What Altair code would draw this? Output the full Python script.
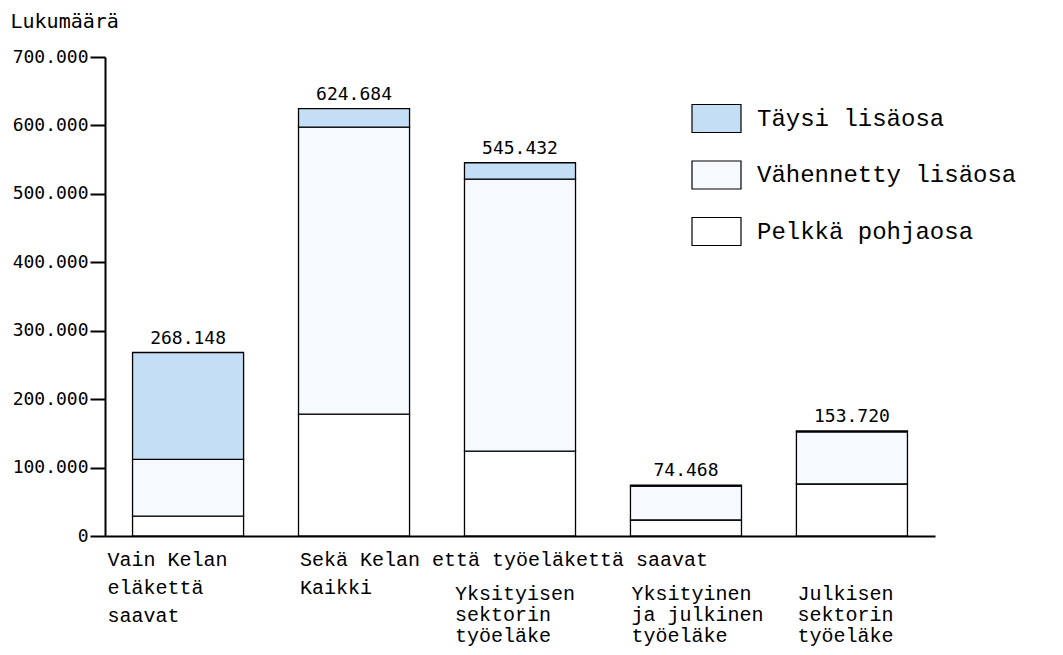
import altair as alt
import pandas as pd

# ---------------- data ----------------
categories = [
    "Vain Kelan eläkettä saavat",
    "Kaikki",
    "Yksityisen sektorin työeläke",
    "Yksityinen ja julkinen työeläke",
    "Julkisen sektorin työeläke",
]
series = ["Täysi lisäosa", "Vähennetty lisäosa", "Pelkkä pohjaosa"]
pelkka = [29000, 178000, 124000, 23400, 76000]
vahennetty = [83000, 419500, 397500, 49500, 76200]
taysi = [156148, 27184, 23932, 1568, 1520]
totals = [268148, 624684, 545432, 74468, 153720]
colors = ["#C4DFF5", "#F6FAFE", "#FFFFFF"]
y_ticks = [0, 100000, 200000, 300000, 400000, 500000, 600000, 700000]

lab_vain = ["Vain Kelan", "eläkettä", "saavat"]
lab_seka = ["Sekä Kelan että työeläkettä saavat", "Kaikki"]
lab_yks = ["Yksityisen", "sektorin", "työeläke"]
lab_yj = ["Yksityinen", "ja julkinen", "työeläke"]
lab_julk = ["Julkisen", "sektorin", "työeläke"]

# ---------------- tables ----------------
rows = []
for i, c in enumerate(categories):
    rows.append({"cat": c, "series": series[2], "value": pelkka[i], "ord": 0})
    rows.append({"cat": c, "series": series[1], "value": vahennetty[i], "ord": 1})
    rows.append({"cat": c, "series": series[0], "value": taysi[i], "ord": 2})
df = pd.DataFrame(rows)
tot = pd.DataFrame({"cat": categories, "total": totals})

FONT_NUM = "DejaVu Sans Mono"
FONT_TXT = "Liberation Mono"

x_scale = alt.Scale(domain=categories, paddingInner=0.331, paddingOuter=0.166)
y_scale = alt.Scale(domain=[0, 700000], nice=False)
y_axis = alt.Axis(
    values=y_ticks,
    labelExpr="replace(format(datum.value, ','), ',', '.')",
    tickSize=15, tickWidth=2, tickColor="black",
    domainColor="black", domainWidth=2,
    labelFont=FONT_NUM, labelFontSize=18, labelColor="black", labelPadding=2,
    grid=False,
    title="Lukumäärä", titleAngle=0, titleX=-95, titleY=-30,
    titleAlign="left", titleBaseline="alphabetic",
    titleFont=FONT_NUM, titleFontSize=20, titleFontWeight="normal", titleColor="black",
)
x_axis = alt.Axis(labels=False, ticks=False, title=None, domainColor="black", domainWidth=2)

bars = alt.Chart(df).mark_bar(stroke="black", strokeWidth=1.3, opacity=1).encode(
    x=alt.X("cat:N", scale=x_scale, axis=x_axis),
    y=alt.Y("value:Q", stack="zero", scale=y_scale, axis=y_axis),
    color=alt.Color(
        "series:N",
        scale=alt.Scale(domain=series, range=colors),
        legend=alt.Legend(
            title=None, orient="none", legendX=586, legendY=36,
            symbolType="M-1,-0.5714L1,-0.5714L1,0.5714L-1,0.5714Z",
            symbolSize=2401, symbolStrokeColor="black", symbolStrokeWidth=1.2,
            symbolOpacity=1, symbolFillColor="white",
            labelFont=FONT_TXT, labelFontSize=24, labelColor="black",
            labelOffset=15, labelLimit=500, rowPadding=14.5, padding=0,
        ),
    ),
    order=alt.Order("ord:Q", sort="ascending"),
)

total_text = alt.Chart(tot).transform_calculate(
    lbl="replace(format(datum.total, ','), ',', '.')"
).mark_text(font=FONT_NUM, fontSize=18, color="black", baseline="alphabetic", dy=-9).encode(
    x=alt.X("cat:N", scale=x_scale, axis=x_axis),
    y=alt.Y("total:Q", scale=y_scale, axis=y_axis),
    text="lbl:N",
)


def sub_label(cat_idx, lines, dx, dy, lh):
    d = pd.DataFrame({"cat": [categories[i] for i in cat_idx], "txt": ["\n".join(l) for l in lines]})
    return alt.Chart(d).mark_text(
        font=FONT_TXT, fontSize=20, color="black", align="left", baseline="alphabetic",
        lineBreak="\n", lineHeight=lh, dx=dx, dy=dy,
    ).encode(
        x=alt.X("cat:N", scale=x_scale, axis=x_axis, bandPosition=0),
        y=alt.YDatum(0, type="quantitative", scale=y_scale, axis=y_axis),
        text="txt:N",
    )


lab1 = sub_label([0], [lab_vain], -25, 30, 28)
lab2 = sub_label([1], [lab_seka], 1.5, 30, 28)
lab3 = sub_label([2], [lab_yks], -9.5, 64, 21)
lab4 = sub_label([3, 4], [lab_yj, lab_julk], 1, 64, 21)

chart = alt.layer(bars, total_text, lab1, lab2, lab3, lab4).properties(
    width=830, height=479,
    autosize=alt.AutoSizeParams(type="none"),
    padding={"left": 97, "top": 49, "right": 120, "bottom": 111},
    background="white",
).configure_view(stroke=None)

chart.save("out.html", embed_options={"renderer": "svg", "actions": False})
